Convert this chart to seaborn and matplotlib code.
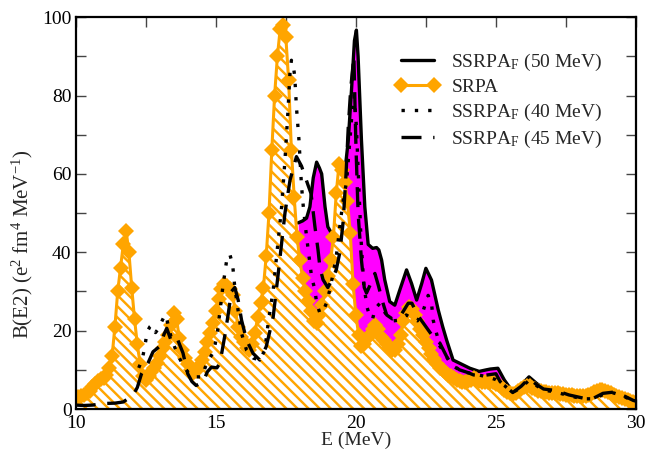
import numpy as np
import matplotlib
matplotlib.use("Agg")
import matplotlib.pyplot as plt
import seaborn as sns
from matplotlib.ticker import MultipleLocator

# SRPA strength on the 0.1 MeV grid
energy = np.round(np.arange(10.0, 30.05, 0.1), 1)
srpa = [
    2.5, 3.0, 3.3, 3.6, 4.0, 4.6, 5.5, 6.5, 7.2, 7.6,        # 10.0-10.9
    8.0, 8.8, 10.5, 13.5, 21, 30, 36, 42, 45.5, 40,          # 11
    31, 23, 16.5, 11.5, 8.5, 7.5, 8.5, 9.5, 10.5, 11.7,      # 12
    13.5, 15.5, 17, 19, 21.5, 24.5, 23, 18, 15, 13,          # 13
    11.5, 10, 9.2, 9.8, 11, 12.5, 14.5, 17, 19.5, 22,        # 14
    25, 28, 30.5, 32, 31.5, 30.5, 29, 25, 21, 18.5,          # 15
    17, 15.5, 15, 16.5, 19.5, 23.5, 27, 31, 39, 50,          # 16
    66, 80, 90, 97, 98, 95, 84, 66, 54, 44,                  # 17
    38, 33.5, 30, 27.5, 25, 22.5, 22, 24, 26.5, 30,          # 18
    34, 38, 44, 55, 62.5, 61, 58, 53, 45, 32,                # 19
    24, 19, 16, 16.5, 18, 19, 20.5, 21.5, 20.5, 18.5,        # 20
    17.5, 16.5, 15.5, 15, 15, 16.5, 19, 22.5, 24.5, 26,      # 21
    25.5, 24, 22.5, 20.5, 19, 17, 15.5, 14, 12.8, 11.5,      # 22
    10.5, 10, 9.3, 8.8, 8.3, 8, 7.5, 7.2, 7, 7,              # 23
    7.2, 7.5, 7.8, 7.6, 7.2, 6.8, 6.8, 7, 7, 6.8,            # 24
    6.5, 6, 5.3, 4.8, 4.4, 4, 3.9, 4.1, 4.5, 5,              # 25
    5.5, 5.8, 5.8, 5.4, 5, 4.7, 4.5, 4.4, 4.3, 4.2,          # 26
    4.2, 4.1, 4, 3.9, 3.8, 3.7, 3.6, 3.5, 3.4, 3.3,          # 27
    3.3, 3.3, 3.4, 3.6, 3.9, 4.3, 4.6, 4.8, 4.8, 4.6,        # 28
    4.3, 4, 3.7, 3.4, 3.1, 2.9, 2.6, 2.3, 2.1, 1.9,          # 29
    1.7,                                                     # 30
]

# SSRPA_F curves, (E, B(E2)) pairs
ssrpa50 = [
    (17.94, 47.5), (18.1, 48), (18.24, 48.7), (18.36, 51.6), (18.48, 59),
    (18.6, 63), (18.7, 61.5), (18.78, 60), (18.9, 51.6), (19.0, 46.5),
    (19.2, 44), (19.35, 45), (19.5, 52), (19.6, 60), (19.73, 68.6),
    (19.85, 82), (19.95, 94), (20.02, 96.7), (20.08, 90), (20.2, 68.6),
    (20.32, 51.6), (20.44, 42), (20.6, 41), (20.74, 41.2), (20.82, 40.6),
    (20.92, 38), (21.03, 33), (21.21, 27.4), (21.39, 26.5), (21.57, 30.4),
    (21.81, 35.5), (21.99, 32), (22.17, 27.8), (22.35, 32), (22.5, 35.9),
    (22.7, 32.9), (22.94, 25.3), (23.1, 21), (23.24, 17.6), (23.47, 12.5),
    (23.7, 11.7), (24.07, 10.4), (24.4, 9.6), (24.66, 10), (24.8, 10.2),
    (25.07, 10.4), (25.3, 7.4), (25.6, 4.4), (25.9, 6.1), (26.18, 8.2),
    (26.44, 6.6), (26.68, 5.3), (27.16, 4.8), (27.6, 3.6), (28.1, 2.7),
    (28.47, 2.7), (28.82, 4.0), (29.18, 4.4), (29.5, 3.6), (29.9, 2.3),
    (30.0, 2.0),
]

ssrpa40 = [
    (12.25, 10.5), (12.37, 12.5), (12.47, 16), (12.55, 19.7), (12.65, 21),
    (12.72, 21.4), (12.85, 19.5), (12.95, 20.5), (13.05, 22), (13.15, 23.5),
    (13.22, 24), (13.3, 21.4), (13.4, 18.5), (13.55, 15.5), (13.7, 13),
    (13.85, 11), (14.0, 9.5), (14.09, 8.7), (14.3, 8.2), (14.5, 8.2),
    (14.68, 11.7), (14.92, 14.6), (15.05, 19), (15.15, 25), (15.25, 31),
    (15.39, 38), (15.5, 39.5), (15.6, 37), (15.68, 31), (15.8, 25),
    (15.92, 19.3), (16.1, 15), (16.34, 13), (16.57, 12.5), (16.75, 15),
    (16.87, 21.9), (17.05, 30.4), (17.17, 38.9), (17.35, 51.6), (17.47, 63.5),
    (17.58, 76.3), (17.65, 86), (17.7, 89), (17.76, 88), (17.82, 84.8),
    (17.88, 77), (17.97, 68.6), (18.06, 57), (18.12, 52), (18.24, 44),
    (18.3, 40.6), (18.36, 37.2), (18.42, 33.7), (18.54, 30.4), (18.6, 27),
    (18.72, 24.4), (18.83, 25), (18.95, 27), (19.07, 30.4), (19.19, 34.6),
    (19.3, 38.9), (19.37, 43), (19.45, 48), (19.55, 53.3), (19.67, 58),
    (19.78, 68), (19.88, 77), (19.94, 80), (20.02, 72), (20.1, 58),
    (20.18, 44), (20.28, 32), (20.4, 26), (20.5, 23.5), (20.6, 23),
    (20.68, 25.5), (20.86, 27), (21.0, 25), (21.15, 23.5), (21.35, 22.5),
    (21.57, 22.7), (21.8, 24), (22.0, 23.1), (22.2, 22.5), (22.4, 25),
    (22.58, 29), (22.7, 27), (22.76, 22.7), (22.88, 19.3), (23.0, 16),
    (23.1, 15), (23.24, 13.3), (23.47, 11), (23.8, 9.5), (24.2, 9),
    (24.5, 8.5), (24.78, 8), (25.0, 7.5), (25.3, 6), (25.6, 4.2),
    (25.9, 5.5), (26.18, 7.3), (26.44, 6), (26.7, 4.8), (27.1, 4.4),
    (27.6, 3.4), (28.1, 2.6), (28.5, 2.6), (28.85, 3.8), (29.2, 4.1),
    (29.5, 3.4), (29.9, 2.1), (30.0, 1.9),
]

ssrpa45 = [
    (10.0, 1.0), (10.3, 0.9), (10.6, 1.0), (11.0, 1.4), (11.4, 1.5),
    (11.7, 1.8), (11.94, 3.0), (12.1, 4.2), (12.2, 5.5), (12.35, 9.0),
    (12.58, 11.7), (12.76, 14.6), (13.0, 16.0), (13.15, 19), (13.25, 20.6),
    (13.4, 17.6), (13.6, 18.4), (13.83, 14.3), (14.0, 9.0), (14.15, 7),
    (14.3, 6.0), (14.55, 6.9), (14.7, 9.5), (14.85, 10.7), (15.04, 10.5),
    (15.15, 11.7), (15.33, 19), (15.44, 24), (15.56, 30), (15.68, 31),
    (15.8, 27.8), (15.92, 22.7), (16.1, 17.6), (16.33, 14.2), (16.57, 12.5),
    (16.8, 15.9), (17.05, 23.5), (17.23, 34.6), (17.47, 50), (17.65, 58.4),
    (17.88, 64.4), (18.06, 62), (18.3, 57), (18.4, 55), (18.54, 46.5),
    (18.65, 40.6), (18.72, 36), (18.83, 33), (19.0, 31), (19.15, 33),
    (19.3, 35.5), (19.43, 40), (19.55, 48), (19.65, 60), (19.73, 72),
    (19.82, 82), (19.93, 90), (20.0, 68), (20.08, 50), (20.2, 38),
    (20.3, 31), (20.38, 29.6), (20.5, 31.5), (20.68, 34.6), (20.8, 31.6),
    (20.97, 27), (21.1, 24), (21.3, 23), (21.57, 23.5), (21.87, 27),
    (22.0, 27), (22.2, 24), (22.5, 21), (22.8, 18), (23.0, 16.8),
    (23.36, 11.7), (23.7, 10), (24.0, 9.3), (24.2, 8.7), (24.5, 8.5),
    (24.8, 8.8), (25.0, 9.0), (25.15, 7), (25.3, 6.0), (25.6, 4.2),
    (25.9, 5.8), (26.18, 7.8), (26.44, 6.3), (26.7, 5.1), (27.16, 4.7),
    (27.6, 3.6), (28.1, 2.8), (28.47, 2.7), (28.82, 4.0), (29.18, 4.3),
    (29.5, 3.6), (29.9, 2.2), (30.0, 2.0),
]

labels = [r"SSRPA$_\mathrm{F}$ (50 MeV)", "SRPA",
          r"SSRPA$_\mathrm{F}$ (40 MeV)", r"SSRPA$_\mathrm{F}$ (45 MeV)"]

sns.set_theme(style="ticks")
plt.rcParams["font.family"] = ["Liberation Serif", "DejaVu Serif"]
plt.rcParams["mathtext.fontset"] = "custom"
plt.rcParams["mathtext.rm"] = "Liberation Serif"
plt.rcParams["mathtext.it"] = "Liberation Serif:italic"
plt.rcParams["hatch.linewidth"] = 1.75

e50, b50 = np.array(ssrpa50).T
e40, b40 = np.array(ssrpa40).T
e45, b45 = np.array(ssrpa45).T

fig = plt.figure(figsize=(6.49, 4.51), dpi=100)
ax = fig.add_axes([0.1166, 0.0931, 0.8634, 0.8689])

ax.fill_between(e50, b50, 0, color="magenta", lw=0, zorder=1)
sns.lineplot(x=e50, y=b50, color="black", lw=2.4, ax=ax, zorder=2)
ax.fill_between(energy, srpa, 0, facecolor="white", edgecolor="orange",
                hatch="\\" * 3, lw=0, zorder=3)
sns.lineplot(x=energy, y=srpa, color="orange", lw=2.2, marker="D", markersize=8,
             markeredgecolor="orange", markeredgewidth=0, ax=ax, zorder=4)
sns.lineplot(x=e40, y=b40, color="black", lw=2.4, ax=ax, zorder=5)
sns.lineplot(x=e45, y=b45, color="black", lw=2.4, ax=ax, zorder=6)

h50, hsrpa, h40, h45 = ax.get_lines()[:4]
h40.set_linestyle((0, (1, 3)))
h45.set_linestyle((0, (6, 3.5)))
h45.set_dash_capstyle("butt")
for h, lab in zip([h50, hsrpa, h40, h45], labels):
    h.set_label(lab)

ax.set_xlim(10, 30)
ax.set_ylim(0, 100)
ax.xaxis.set_major_locator(MultipleLocator(5))
ax.xaxis.set_minor_locator(MultipleLocator(2.5))
ax.yaxis.set_major_locator(MultipleLocator(20))
ax.yaxis.set_minor_locator(MultipleLocator(10))
ax.tick_params(which="both", direction="in", length=7, width=1, color="#444444",
               top=True, right=True, labelsize=14, labelcolor="black")
ax.tick_params(axis="x", pad=4)
ax.tick_params(axis="y", pad=3)
for sp in ax.spines.values():
    sp.set_linewidth(1.6)
    sp.set_color("black")
    sp.set_zorder(10)

ax.set_xlabel("E (MeV)", fontsize=14, labelpad=0)
ax.set_ylabel(r"B(E2) (e$^{2}$ fm$^{4}$ MeV$^{-1}$)", fontsize=15)
ax.yaxis.set_label_coords(-0.072, 0.42)

ax.legend(handles=[h50, hsrpa, h40, h45], loc="upper left",
          bbox_to_anchor=(0.57, 0.912), frameon=False,
          fontsize=14, numpoints=2, handlelength=2.3, handletextpad=0.6,
          labelspacing=0.3, borderpad=0, borderaxespad=0)

fig.savefig("out.png", dpi=100)
